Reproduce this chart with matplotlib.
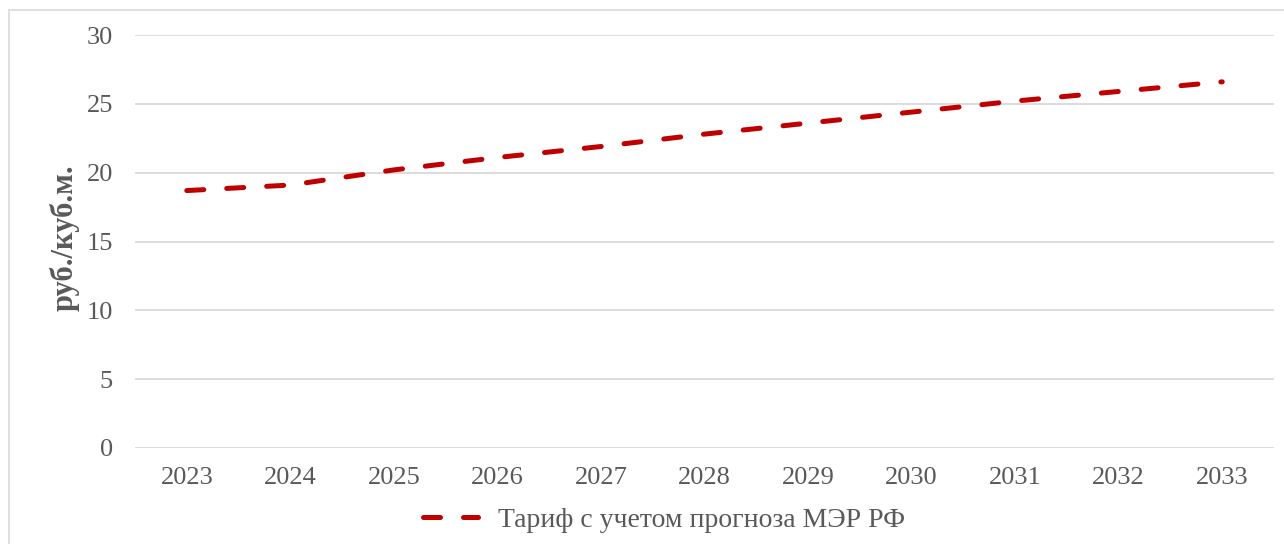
import matplotlib
matplotlib.use("Agg")
import matplotlib.pyplot as plt
from matplotlib.patches import Rectangle

years = ["2023", "2024", "2025", "2026", "2027", "2028",
         "2029", "2030", "2031", "2032", "2033"]
tariff = [18.7, 19.1, 20.2, 21.1, 21.9, 22.8, 23.6, 24.4, 25.2, 25.9, 26.6]
series_name = "Тариф с учетом прогноза МЭР РФ"
y_label = "руб./куб.м."

W, H = 1284, 544
TEXT = "#595959"
GRID = "#d9d9d9"
RED = "#c00000"

plt.rcParams["font.family"] = ["Liberation Serif", "DejaVu Serif"]

fig = plt.figure(figsize=(W / 100, H / 100), dpi=100)
ax = fig.add_axes([135 / W, 1 - 448 / H, (1274 - 135) / W, (448 - 35) / H])

# outer chart border (right and bottom edges fall outside the image)
fig.patches.append(Rectangle((9 / W, -0.05), 1.0, 1 - 10 / H + 0.05,
                             transform=fig.transFigure, fill=False,
                             edgecolor=GRID, linewidth=1.2))

x = list(range(len(years)))
line, = ax.plot(x, tariff, color=RED, linewidth=3.6,
                linestyle=(0, (3.4, 4.6)), dash_capstyle="round",
                label=series_name)

ax.set_xlim(-0.5, len(years) - 0.5)
ax.set_ylim(0, 30)
ax.set_yticks(range(0, 31, 5))
ax.set_xticks(x)
ax.set_xticklabels(years)

for s in ax.spines.values():
    s.set_visible(False)
ax.grid(True, axis="y", color=GRID, linewidth=1.3)
ax.set_axisbelow(True)
ax.tick_params(axis="both", length=0, labelsize=19, labelcolor=TEXT)
ax.tick_params(axis="y", pad=16)
ax.tick_params(axis="x", pad=14)

ax.set_ylabel(y_label, fontsize=22, fontweight="bold", color=TEXT)
ax.yaxis.set_label_coords(-(135 - 80) / (1274 - 135), 0.51)

fig.legend(handles=[line], loc="center",
           bbox_to_anchor=(664 / W, 1 - 520 / H),
           frameon=False, fontsize=20, labelcolor=TEXT,
           handlelength=2.0, handletextpad=0.7)

fig.savefig("out.png", dpi=100)
